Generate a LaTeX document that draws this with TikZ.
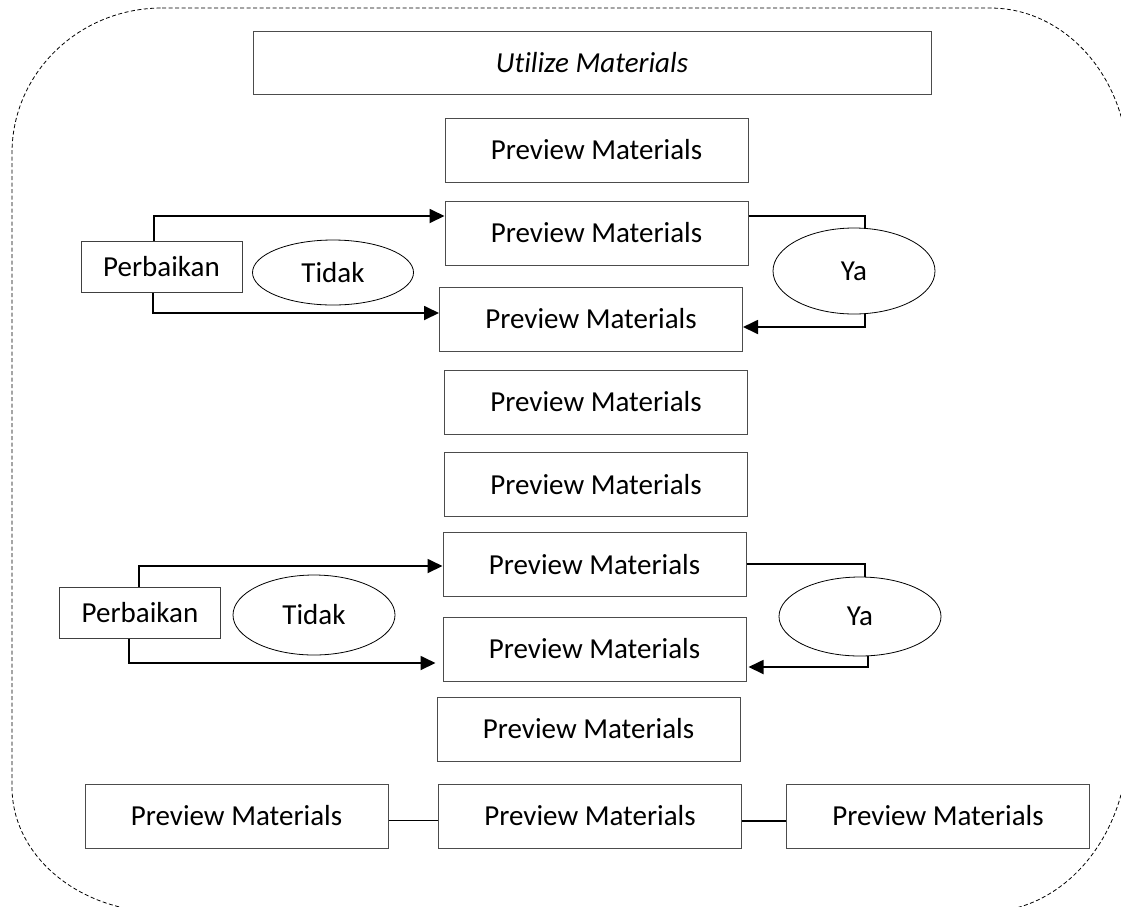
\documentclass[tikz,border=0pt]{standalone}
\usepackage{fontspec}
\setmainfont{Carlito}[Ligatures=NoCommon]
\usetikzlibrary{arrows.meta,shapes.geometric}
\tikzset{
  pbox/.style={draw=black!70, line width=1pt, minimum width=303pt, minimum height=64pt, inner sep=0pt, font=\fontsize{29}{34}\selectfont},
  fbox/.style={draw=black!75, line width=1pt, minimum width=161pt, minimum height=51pt, inner sep=0pt, font=\fontsize{29}{34}\selectfont},
  oval/.style={ellipse, draw=black, line width=0.8pt, inner sep=0pt, font=\fontsize{29}{34}\selectfont},
  arr/.style={line width=1.8pt, -{Triangle[length=15pt,width=14pt]}},
  conn/.style={line width=1.7pt},
  thinconn/.style={line width=1.3pt},
  frame/.style={draw=black, line width=0.8pt, dash pattern=on 4pt off 2.5pt}
}
\begin{document}
\begin{tikzpicture}[x=1pt,y=-1pt]
\useasboundingbox (0,0) rectangle (1121,906);
\begin{scope}
\clip (0,0) rectangle (1121,906);
\draw[frame] (162,8) -- (990,8)
  arc[start angle=-90, end angle=0, x radius=138, y radius=158]
  -- (1128,742)
  arc[start angle=0, end angle=90, x radius=143, y radius=170]
  -- (162,912)
  arc[start angle=90, end angle=180, x radius=150, y radius=125]
  -- (12,153)
  arc[start angle=180, end angle=270, x radius=150, y radius=145]
  -- cycle;
\end{scope}

\node[pbox, minimum width=678pt, minimum height=63pt] (um) at (592,62.5) {\itshape Utilize Materials};
\node[pbox] (pm1) at (596.5,150) {Preview Materials};
\node[pbox] (pm2) at (596.5,233) {Preview Materials};
\node[pbox] (pm3) at (591,319) {Preview Materials};
\node[pbox] (pm4) at (596,402) {Preview Materials};
\node[pbox] (pm5) at (596,484.5) {Preview Materials};
\node[pbox] (pm6) at (594.5,564.5) {Preview Materials};
\node[pbox] (pm7) at (594.5,649) {Preview Materials};
\node[pbox] (pm8) at (588.5,729) {Preview Materials};
\node[pbox] (b1) at (236.5,816) {Preview Materials};
\node[pbox] (b2) at (590,816) {Preview Materials};
\node[pbox] (b3) at (938,816) {Preview Materials};

\node[fbox] (p1) at (161.5,267) {Perbaikan};
\node[fbox] (p2) at (140,612.5) {Perbaikan};

\node[oval, minimum width=161pt, minimum height=65pt] (t1) at (333,272.5) {Tidak};
\node[oval, minimum width=162pt, minimum height=86pt] (y1) at (854,271) {Ya};
\node[oval, minimum width=162pt, minimum height=80pt] (t2) at (314,615) {Tidak};
\node[oval, minimum width=162pt, minimum height=79pt] (y2) at (860,616.5) {Ya};

\draw[arr] ([xshift=-7.5pt]p1.north) |- ([yshift=17pt]pm2.west);
\draw[arr] ([xshift=-8.5pt]p1.south) |- ([yshift=6pt]pm3.west);
\draw[conn] ([yshift=17pt]pm2.east) -| ([xshift=11pt]y1.north);
\draw[arr] ([xshift=11pt]y1.south) |- ([yshift=-8pt]pm3.east);

\draw[arr] ([xshift=-1pt]p2.north) |- ([yshift=-1.5pt]pm6.west);
\draw[arr] ([xshift=-11pt]p2.south) |- ([xshift=-7pt,yshift=-14pt]pm7.west);
\draw[conn] ([yshift=0.5pt]pm6.east) -| ([xshift=5pt]y2.north);
\draw[arr] ([xshift=8pt]y2.south) |- ([xshift=2pt,yshift=-18pt]pm7.east);

\draw[thinconn] ([yshift=-4.5pt]b1.east) -- ([yshift=-4.5pt]b2.west);
\draw[thinconn] ([yshift=-5pt]b2.east) -- ([yshift=-5pt]b3.west);
\end{tikzpicture}
\end{document}
